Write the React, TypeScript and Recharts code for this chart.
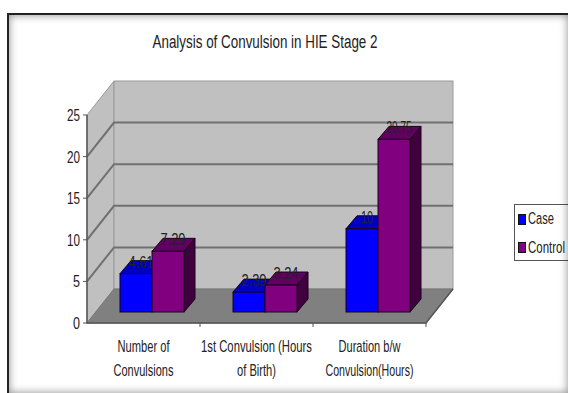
import { Bar, BarChart, LabelList, Legend, XAxis, YAxis, usePlotArea } from "recharts";

const categories = [
  ["Number of", "Convulsions"],
  ["1st Convulsion (Hours", "of Birth)"],
  ["Duration b/w", "Convulsion(Hours)"],
];
const caseValues = [4.61, 2.39, 10];
const controlValues = [7.29, 3.24, 20.75];
const yTicks = [0, 5, 10, 15, 20, 25];

const data = categories.map((lines, i) => ({
  name: lines.join(" "),
  Case: caseValues[i],
  Control: controlValues[i],
}));

const FONT = "'Liberation Sans', Arial, sans-serif";
const TEXT = "#222";
const WALL = "#c0c0c0";
const FLOOR = "#808080";
const GRID = "#707070";
const BLUE = "#0000ff";
const PURPLE = "#800080";
const DOMAIN_MAX = 25;

// depth of the box behind the axes
const BOX_DX = 27;
const BOX_DY = 34;
// depth of the bars and where they sit on the floor
const BAR_DX = 11;
const BAR_DY = 13;
const BAR_SHIFT_X = 8;
const BAR_SHIFT_Y = 11;

const measureCtx = document.createElement("canvas").getContext("2d");

function naturalWidth(text: string, size: number) {
  if (!measureCtx) return 1;
  measureCtx.font = `${size}px ${FONT}`;
  return measureCtx.measureText(text).width || 1;
}

// Arial-style text squeezed horizontally to a set width
function NarrowText({ x, y, width, size, anchor = "middle", children }: any) {
  const sx = width / naturalWidth(String(children), size);
  return (
    <text
      transform={`translate(${x} ${y}) scale(${sx} 1)`}
      textAnchor={anchor}
      fontFamily={FONT}
      fontSize={size}
      fill={TEXT}
    >
      {children}
    </text>
  );
}

function Box3D() {
  const plot = usePlotArea();
  if (!plot) return null;
  const { x, y, width, height } = plot;
  const bottom = y + height;
  const right = x + width;
  const yOf = (v: number) => bottom - (v / DOMAIN_MAX) * height;
  return (
    <g>
      <polygon
        points={`${x},${bottom} ${x},${y} ${x + BOX_DX},${y - BOX_DY} ${x + BOX_DX},${bottom - BOX_DY}`}
        fill={WALL}
        stroke="#9a9a9a"
      />
      <rect
        x={x + BOX_DX}
        y={y - BOX_DY}
        width={width}
        height={height}
        fill={WALL}
        stroke="#9a9a9a"
      />
      <polygon
        points={`${x},${bottom} ${right},${bottom} ${right + BOX_DX},${bottom - BOX_DY} ${x + BOX_DX},${bottom - BOX_DY}`}
        fill={FLOOR}
        stroke="#777"
      />
      {yTicks.slice(1, -1).map((v) => (
        <polyline
          key={v}
          points={`${x},${yOf(v)} ${x + BOX_DX},${yOf(v) - BOX_DY} ${right + BOX_DX},${yOf(v) - BOX_DY}`}
          fill="none"
          stroke={GRID}
          strokeWidth={2}
        />
      ))}
      <polyline
        points={`${x},${y} ${x},${bottom} ${right},${bottom} ${right + BOX_DX},${bottom - BOX_DY}`}
        fill="none"
        stroke="#555"
        strokeWidth={1.5}
      />
      {[1, 2, 3].map((i) => {
        const tx = x + (i * width) / 3;
        return <line key={i} x1={tx} x2={tx} y1={bottom} y2={bottom + 4} stroke="#555" />;
      })}
    </g>
  );
}

function Bar3D({ x, y, width, height, fill, side, top }: any) {
  const l = x + BAR_SHIFT_X;
  const r = l + width;
  const t = y - BAR_SHIFT_Y;
  const b = t + height;
  return (
    <g stroke="#1a001a" strokeWidth={1}>
      <polygon
        points={`${l},${t} ${l + BAR_DX},${t - BAR_DY} ${r + BAR_DX},${t - BAR_DY} ${r},${t}`}
        fill={top}
      />
      <polygon
        points={`${r},${t} ${r + BAR_DX},${t - BAR_DY} ${r + BAR_DX},${b - BAR_DY} ${r},${b}`}
        fill={side}
      />
      <rect x={l} y={t} width={width} height={height} fill={fill} />
    </g>
  );
}

function ValueLabel({ x, y, width, value }: any) {
  const text = String(value);
  return (
    <NarrowText
      x={x + width / 2 + BAR_SHIFT_X + 5}
      y={y - BAR_SHIFT_Y - 6}
      width={text.length > 2 ? 25 : 12}
      size={16}
    >
      {text}
    </NarrowText>
  );
}

const tickWidths: Record<string, number[]> = {
  "Number of Convulsions": [52, 60],
  "1st Convulsion (Hours of Birth)": [111, 39],
  "Duration b/w Convulsion(Hours)": [62, 88],
};

function CategoryTick({ x, y, payload }: any) {
  const lines = categories.find((c) => c.join(" ") === payload.value) ?? [];
  const widths = tickWidths[payload.value] ?? [];
  return (
    <g>
      {lines.map((line, i) => (
        <NarrowText key={line} x={x} y={y + 21 + i * 24} width={widths[i]} size={16}>
          {line}
        </NarrowText>
      ))}
    </g>
  );
}

function ValueTick({ x, y, payload }: any) {
  return (
    <NarrowText
      x={x - 1}
      y={y + 6}
      width={String(payload.value).length > 1 ? 13 : 7}
      size={17}
      anchor="end"
    >
      {String(payload.value)}
    </NarrowText>
  );
}

function LegendBox() {
  return (
    <svg width={60} height={58} style={{ display: "block", overflow: "visible" }}>
      <rect x={0.5} y={0.5} width={70} height={56} fill="#fff" stroke="#555" />
      <rect x={4.5} y={10.5} width={7} height={10} fill={BLUE} stroke="#111" />
      <rect x={4.5} y={38.5} width={7} height={10} fill={PURPLE} stroke="#111" />
      <NarrowText x={14} y={20} width={26} size={16} anchor="start">
        Case
      </NarrowText>
      <NarrowText x={14} y={49} width={37} size={16} anchor="start">
        Control
      </NarrowText>
    </svg>
  );
}

export default function App() {
  return (
    <div style={{ position: "fixed", left: 0, top: 0, width: 568, height: 393, overflow: "hidden", background: "#fff" }}>
      <BarChart
        width={568}
        height={393}
        data={data}
        barSize={32}
        barGap={0}
        margin={{ top: 115, right: 142, left: 0, bottom: 0 }}
        style={{ position: "absolute", left: 0, top: 0 }}
      >
        <Box3D />
        <XAxis
          dataKey="name"
          height={70}
          interval={0}
          axisLine={false}
          tickLine={false}
          tick={<CategoryTick />}
        />
        <YAxis
          width={87}
          domain={[0, DOMAIN_MAX]}
          ticks={yTicks}
          tickSize={4}
          axisLine={false}
          tickLine={{ stroke: "#555" }}
          tick={<ValueTick />}
        />
        <Legend
          layout="horizontal"
          align="center"
          verticalAlign="middle"
          wrapperStyle={{ left: 514, top: 204, width: 60 }}
          content={<LegendBox />}
        />
        <Bar
          dataKey="Case"
          fill={BLUE}
          isAnimationActive={false}
          shape={<Bar3D side="#000080" top="#0000c0" />}
        >
          <LabelList dataKey="Case" content={<ValueLabel />} />
        </Bar>
        <Bar
          dataKey="Control"
          fill={PURPLE}
          isAnimationActive={false}
          shape={<Bar3D side="#400040" top="#600060" />}
        >
          <LabelList dataKey="Control" content={<ValueLabel />} />
        </Bar>
        <NarrowText x={265} y={48} width={225} size={19}>
          Analysis of Convulsion in HIE Stage 2
        </NarrowText>
      </BarChart>
      {/* page frame with its soft inner shading */}
      <div
        style={{
          position: "absolute",
          left: 7,
          top: 13,
          width: 561,
          height: 380,
          boxSizing: "border-box",
          borderTop: "2px solid #222",
          borderLeft: "2px solid #222",
          boxShadow: "inset 0 0 9px rgba(0,0,0,0.45)",
          pointerEvents: "none",
        }}
      />
    </div>
  );
}
